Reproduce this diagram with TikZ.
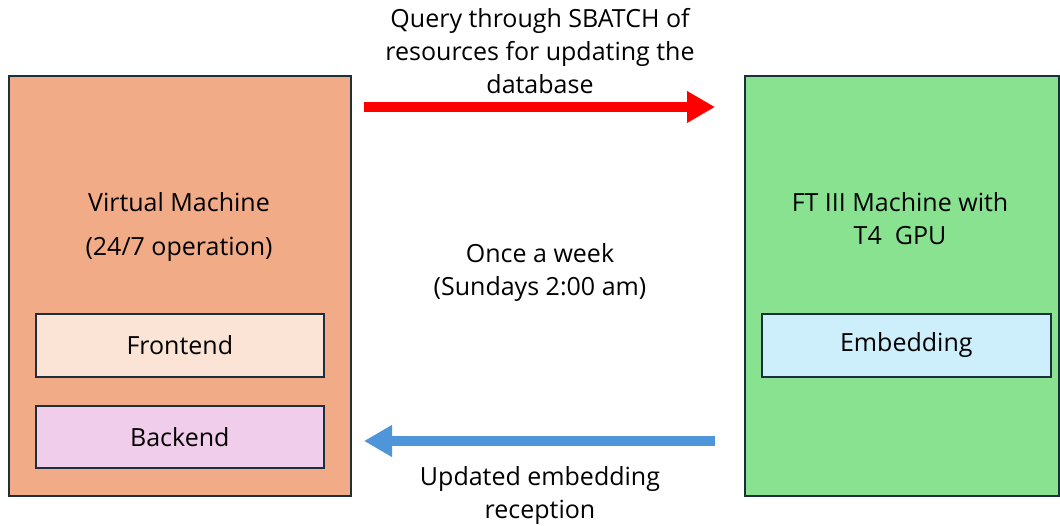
\documentclass[tikz,border=0pt]{standalone}
\usepackage{fontspec}
\setmainfont{Open Sans}
\usetikzlibrary{arrows.meta}
\definecolor{vmfill}{HTML}{F1AB86}
\definecolor{ftfill}{HTML}{88E290}
\definecolor{edge}{HTML}{1B2F3D}
\definecolor{fefill}{HTML}{FBE3D6}
\definecolor{befill}{HTML}{F1CDEC}
\definecolor{embfill}{HTML}{CDEEFB}
\definecolor{redarr}{HTML}{FF0000}
\definecolor{bluearr}{HTML}{4E95D9}
\tikzset{
  txt/.style={font=\fontsize{25}{33}\selectfont, align=center, inner sep=0pt},
  bigbox/.style={draw=edge, line width=2pt, anchor=north west, inner sep=0pt},
  subbox/.style={draw=edge, line width=1.6pt, anchor=north west, inner sep=0pt, font=\fontsize{25}{33}\selectfont},
  fatarrow/.style={line width=10pt, -{Triangle[length=28pt,width=30pt]}, shorten >=0pt},
}
\begin{document}
\begin{tikzpicture}[x=1pt,y=-1pt]
\useasboundingbox (0,0) rectangle (1060,526);
\node[bigbox, fill=vmfill, minimum width=342pt, minimum height=420pt] (vm) at (8,75) {};
\node[bigbox, fill=ftfill, minimum width=314pt, minimum height=420pt] (ft) at (744,75) {};
\node[subbox, fill=fefill, minimum width=288pt, minimum height=63pt] (fe) at (35,313) {Frontend};
\node[subbox, fill=befill, minimum width=288pt, minimum height=62pt] (be) at (35,405) {Backend};
\node[subbox, fill=embfill, minimum width=289pt, minimum height=63pt] (emb) at (761,313) {Embedding};
\node[txt] (vmtitle) at (179,202) {Virtual Machine};
\node[txt] (vmop) at (179,249) {(24/7 operation)\strut};
\node[txt] (fttitle) at (900,219) {FT III Machine with\\T4\ \ GPU};
\node[txt] (query) at (540,51) {Query through SBATCH of\\resources for updating the\\database};
\node[txt] (week) at (540,273) {Once a week\\(Sundays 2:00 am)};
\node[txt] (recv) at (540,496) {Updated embedding\\reception};
\coordinate (r1) at (364,107);
\coordinate (r2) at (715,107);
\coordinate (b1) at (715,441);
\coordinate (b2) at (364,441);
\draw[fatarrow, draw=redarr] (r1) -- (r2);
\draw[fatarrow, draw=bluearr] (b1) -- (b2);
\end{tikzpicture}
\end{document}
